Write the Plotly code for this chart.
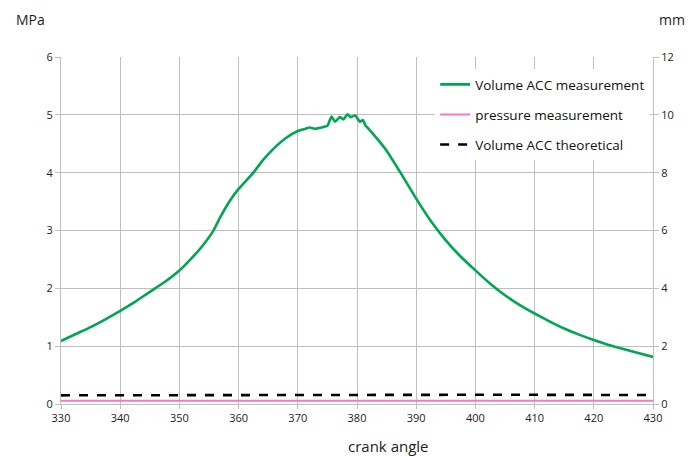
import plotly.graph_objects as go

# crank angle (deg) and Volume ACC measurement (mm, right axis)
vol_angle = [330, 332.5, 335, 337.5, 340, 342.5, 345, 347.5, 350, 352, 353.5, 355.7, 356.8, 358.5, 360,
             362.5, 364, 366, 368, 370, 371, 372, 373, 374, 375,
             375.7, 376.3, 377.1, 377.7, 378.4, 378.9, 379.7, 380.5, 381, 381.4, 382.3, 383.5, 385,
             387.5, 390, 392.5, 395, 397.5, 400, 402.5, 405, 407.5, 410, 412.5, 415, 417.5, 420,
             422.5, 425, 427.5, 430]
vol_meas = [2.18, 2.42, 2.66, 2.93, 3.22, 3.53, 3.88, 4.22, 4.62, 5.03, 5.37, 5.98, 6.42, 7.02, 7.44,
            8.00, 8.41, 8.85, 9.20, 9.44, 9.50, 9.56, 9.52, 9.56, 9.62,
            9.94, 9.76, 9.92, 9.84, 10.02, 9.92, 9.98, 9.76, 9.82, 9.64, 9.44, 9.15, 8.76,
            7.95, 7.10, 6.32, 5.66, 5.10, 4.62, 4.16, 3.76, 3.42, 3.13, 2.86, 2.61, 2.40, 2.21,
            2.04, 1.90, 1.76, 1.63]

# pressure measurement (MPa, left axis)
p_angle = [330, 355, 380, 405, 430]
p_meas = [0.055, 0.055, 0.055, 0.058, 0.058]

# Volume ACC theoretical (mm, right axis)
th_angle = [330, 355, 380, 405, 430]
th_vol = [0.30, 0.31, 0.32, 0.32, 0.31]

x_ticks = list(range(330, 431, 10))
left_ticks = [0, 1, 2, 3, 4, 5, 6]
right_ticks = [0, 2, 4, 6, 8, 10, 12]

FONT = "Open Sans"
GRID = "#bfbfbf"

fig = go.Figure()
fig.add_trace(go.Scatter(x=vol_angle, y=vol_meas, yaxis="y2", mode="lines",
                         name="Volume ACC measurement", legendgroup="a",
                         line=dict(color="#00a651", width=2.6, shape="spline", smoothing=0.4)))
fig.add_trace(go.Scatter(x=p_angle, y=p_meas, yaxis="y", mode="lines",
                         name="pressure measurement", legendgroup="b",
                         line=dict(color="#ff74bd", width=2)))
fig.add_trace(go.Scatter(x=th_angle, y=th_vol, yaxis="y2", mode="lines",
                         name="Volume ACC theoretical", legendgroup="c",
                         line=dict(color="black", width=2.6, dash="dash")))

W, H = 692, 457
l, r, t, b = 61, 39, 57, 53
pw, ph = W - l - r, H - t - b


def ann(text, px_, py_, size):
    return dict(text=text, showarrow=False, xref="paper", yref="paper",
                x=(px_ - l) / pw, y=1 - (py_ - t) / ph, xanchor="center", yanchor="middle",
                font=dict(size=size, family=FONT, color="#222222"))


fig.update_layout(
    width=W, height=H,
    margin=dict(l=l, r=r, t=t, b=b),
    paper_bgcolor="white", plot_bgcolor="white",
    font=dict(family=FONT, color="#222222"),
    showlegend=True,
    legend=dict(x=0.632, y=0.965, xanchor="left", yanchor="top",
                bgcolor="white", font=dict(size=13.5, family=FONT, color="#111111"),
                tracegroupgap=9.5, itemwidth=30),
    xaxis=dict(range=[330, 430], tickvals=x_ticks, showgrid=True, gridcolor=GRID, gridwidth=1,
               showline=True, linecolor=GRID, ticks="outside", ticklen=4, tickcolor=GRID,
               tickfont=dict(size=11, family=FONT, color="#222222"), zeroline=False),
    yaxis=dict(range=[0, 6], tickvals=left_ticks, showgrid=True, gridcolor=GRID, gridwidth=1,
               showline=True, linecolor=GRID, ticks="outside", ticklen=5, tickcolor=GRID,
               tickfont=dict(size=11, family=FONT, color="#222222"), zeroline=False),
    yaxis2=dict(range=[0, 12], tickvals=right_ticks, overlaying="y", side="right",
                showgrid=False, showline=True, linecolor=GRID, ticks="outside", ticklen=5,
                tickcolor=GRID, tickfont=dict(size=11, family=FONT, color="#222222"), zeroline=False),
    annotations=[
        ann("MPa", 30, 20, 14),
        ann("mm", 672, 20, 14),
        ann("crank angle", 388, 446, 15),
    ],
)

fig.write_html("out.html")
